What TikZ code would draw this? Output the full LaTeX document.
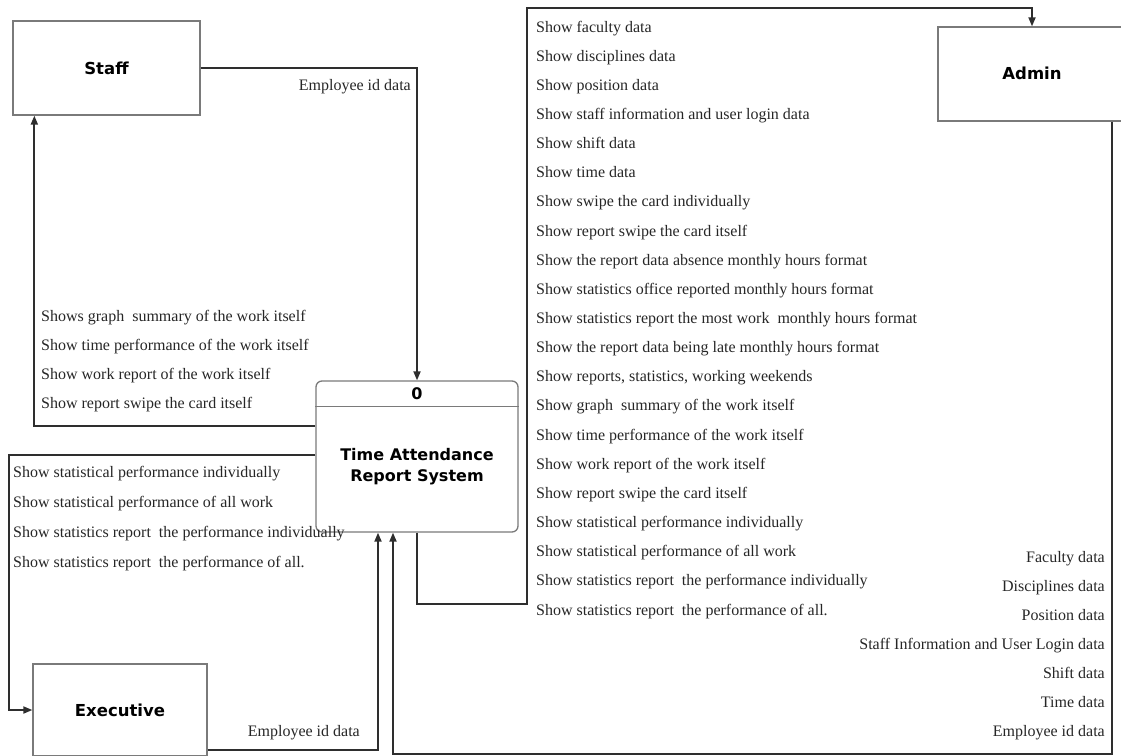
\documentclass[tikz,border=0pt]{standalone}
\usepackage{fontspec}
\setmainfont{Liberation Serif}
\newfontfamily\boxfont{DejaVu Sans}
\usetikzlibrary{arrows.meta}
\definecolor{linecol}{HTML}{2E2E2E}
\definecolor{boxcol}{HTML}{7A7A7A}
\definecolor{txtcol}{HTML}{262626}
\tikzset{
  entity/.style={draw=boxcol, line width=1.3pt, inner sep=0pt, text=black,
    font=\boxfont\bfseries\fontsize{16.5}{19}\selectfont},
  procbox/.style={draw=boxcol, line width=1.3pt, rounded corners=6pt, inner sep=0pt},
  flow/.style={draw=linecol, line width=1.8pt},
  arr/.style={flow, -{Triangle[length=9pt,width=7pt]}},
  lbl/.style={inner sep=0pt, text=txtcol, font=\fontsize{16}{19}\selectfont},
  lblw/.style={lbl, anchor=base west},
  lble/.style={lbl, anchor=base east},
}
\begin{document}
\begin{tikzpicture}[x=1pt, y=-1pt]
\useasboundingbox (0,0) rectangle (1121,755);
% entities
\node[entity, minimum width=187pt, minimum height=94pt] (staff) at (106.5,68) {Staff};
\node[entity, minimum width=174pt, minimum height=92pt] (exec) at (120,710) {};
\node[inner sep=0pt, font=\boxfont\bfseries\fontsize{16.5}{19}\selectfont] (execlbl) at (120,710) {Executive};
\node[entity, minimum width=188pt, minimum height=94pt] (admin) at (1032,74) {};
\node[inner sep=0pt, font=\boxfont\bfseries\fontsize{16.5}{19}\selectfont] (adminlbl) at (1032,73) {Admin};
% process
\node[procbox, minimum width=202pt, minimum height=151pt] (proc) at (417,456.5) {};
\draw[draw=boxcol, line width=1.3pt] ([yshift=-26pt]proc.north west) -- ([yshift=-26pt]proc.north east);
\node[inner sep=0pt, font=\boxfont\bfseries\fontsize{16}{18}\selectfont] (pnum) at (417,394) {0};
\node[inner sep=0pt, align=center, font=\boxfont\bfseries\fontsize{16}{21}\selectfont] (ptitle) at (417,467) {Time Attendance\\Report System};
% connectors
\draw[arr] (staff.east) -| (proc.north);
\draw[arr] ([yshift=30.5pt]proc.west) -| ([xshift=22pt]staff.south west);
\draw[arr] ([yshift=1.5pt]proc.west) -- ++(-306,0) |- (exec.west);
\draw[arr] ([yshift=-40pt]exec.east) -| ([xshift=-39pt]proc.south);
\draw[arr] ([xshift=80pt]admin.south) -- ++(0,632) -| ([xshift=-24pt]proc.south);
\draw[arr] (proc.south) -- ++(0,71) -- ++(110,0) -- ++(0,-596) -| (admin.north);
% labels
\node[lble] (l0) at (411,90) {Employee id data};
\node[lble] (l1) at (360,736) {Employee id data};
\node[lblw] (s1) at (41,321) {Shows graph~ summary of the work itself};
\node[lblw] (s2) at (41,350) {Show time performance of the work itself};
\node[lblw] (s3) at (41,379) {Show work report of the work itself};
\node[lblw] (s4) at (41,408) {Show report swipe the card itself};
\node[lblw] (e1) at (13,477) {Show statistical performance individually};
\node[lblw] (e2) at (13,507) {Show statistical performance of all work};
\node[lblw] (e3) at (13,537) {Show statistics report~ the performance individually};
\node[lblw] (e4) at (13,567) {Show statistics report~ the performance of all.};
\foreach \t [count=\i from 0] in {
  Show faculty data,
  Show disciplines data,
  Show position data,
  Show staff information and user login data,
  Show shift data,
  Show time data,
  Show swipe the card individually,
  Show report swipe the card itself,
  Show the report data absence monthly hours format,
  Show statistics office reported monthly hours format,
  Show statistics report the most work~ monthly hours format,
  Show the report data being late monthly hours format,
  {Show reports, statistics, working weekends},
  Show graph~ summary of the work itself,
  Show time performance of the work itself,
  Show work report of the work itself,
  Show report swipe the card itself,
  Show statistical performance individually,
  Show statistical performance of all work,
  Show statistics report~ the performance individually,
  Show statistics report~ the performance of all.}
  \node[lblw] (a\i) at (536,{32+29.15*\i}) {\t};
\foreach \t [count=\i from 0] in {
  Faculty data, Disciplines data, Position data,
  Staff Information and User Login data, Shift data, Time data, Employee id data}
  \node[lble] (r\i) at (1105,{562+29*\i}) {\t};
\end{tikzpicture}
\end{document}
